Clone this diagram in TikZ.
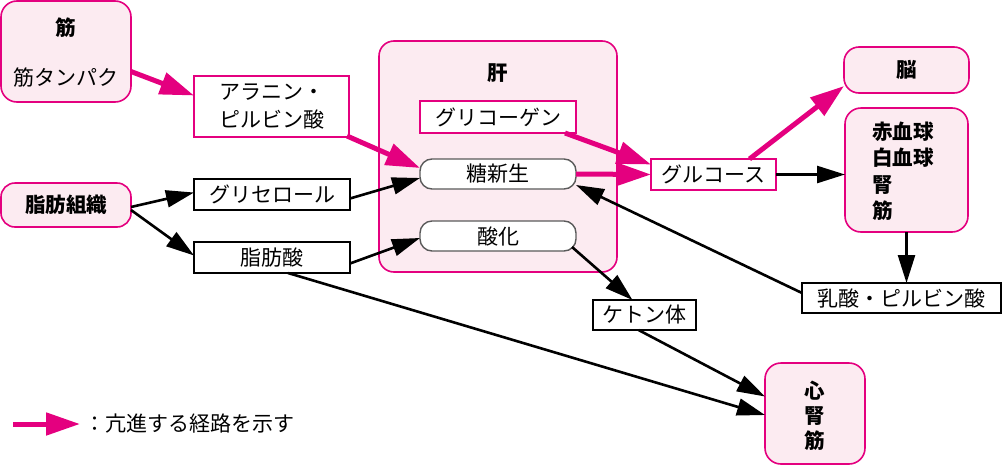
\documentclass[tikz,border=0pt]{standalone}
\usepackage{fontspec}
\setmainfont{Noto Sans CJK JP}
\usetikzlibrary{arrows.meta}
\definecolor{mag}{HTML}{E4007F}
\definecolor{pinkfill}{HTML}{FCEBF1}
\definecolor{edgegray}{HTML}{5A5A5A}
\begin{document}
\begin{tikzpicture}[x=1pt,y=-1pt,
  font=\fontsize{21}{26}\selectfont,
  every node/.style={inner sep=0pt, outer sep=0pt},
  organ/.style={draw=mag, fill=pinkfill, line width=1.6pt, rounded corners=16pt},
  magbox/.style={draw=mag, fill=white, line width=1.6pt},
  blkbox/.style={draw=black, fill=white, line width=1.6pt},
  proc/.style={draw=edgegray, fill=white, line width=1.4pt, rounded corners=12pt},
  blkarrow/.style={line width=2.6pt, -{Triangle[length=28pt,width=17pt]}},
  magarrow/.style={draw=mag, line width=5pt, -{Triangle[length=34pt,width=22pt]}, color=mag},
  bold/.style={font=\fontsize{20.5}{26}\selectfont\bfseries}
]
\useasboundingbox (0,0) rectangle (1003,466);

% boxes
\node[organ, minimum width=130pt, minimum height=101pt] (mus) at (66,51.5) {};
\node[bold] (musT) at (66,28) {筋};
\node (musP) at (66,78) {筋タンパク};

\node[magbox, minimum width=155pt, minimum height=61pt, align=center, font=\fontsize{21}{28}\selectfont] (ala) at (271.5,106.5) {アラニン・\\ピルビン酸};

\node[organ, rounded corners=14pt, minimum width=130pt, minimum height=44pt, bold] (adi) at (66,205) {脂肪組織};

\node[blkbox, minimum width=156pt, minimum height=31pt] (gly) at (272,194.5) {グリセロール};
\node[blkbox, minimum width=156pt, minimum height=31pt] (fa) at (272,257.5) {脂肪酸};

\node[organ, rounded corners=15pt, minimum width=238pt, minimum height=231pt] (liver) at (498,156.5) {};
\node[bold] (liverT) at (498,73) {肝};
\node[magbox, minimum width=156pt, minimum height=32pt] (glyc) at (498,117) {グリコーゲン};
\node[proc, minimum width=156pt, minimum height=30pt] (tou) at (498,174) {糖新生};
\node[proc, minimum width=156pt, minimum height=30pt] (san) at (498,236) {酸化};

\node[magbox, minimum width=125pt, minimum height=31pt] (glu) at (713.5,174.5) {グルコース};

\node[organ, rounded corners=15pt, minimum width=125pt, minimum height=46pt, bold] (brain) at (906.5,70) {脳};
\node[organ, minimum width=123pt, minimum height=124pt] (rbc) at (906.5,170) {};
\node[bold, align=left, font=\fontsize{20.5}{26.5}\selectfont\bfseries] (rbcT) at (903,171) {赤血球\\白血球\\腎\\筋};

\node[blkbox, minimum width=199pt, minimum height=30pt] (lac) at (901.5,298) {乳酸・ピルビン酸};
\node[blkbox, minimum width=103pt, minimum height=30pt] (ket) at (644.5,315) {ケトン体};

\node[organ, minimum width=100pt, minimum height=101pt] (heart) at (815,413.5) {};
\node[align=center, font=\fontsize{20.5}{25}\selectfont\bfseries] (heartT) at (815,416) {心\\腎\\筋};

% legend
\coordinate (legA) at (13,424);
\coordinate (legB) at (80,424);
\node[anchor=west] (legT) at (84,424) {：亢進する経路を示す};

% magenta arrows
\draw[magarrow] ([yshift=-20pt]mus.east) -- ([yshift=11pt]ala.west);
\draw[magarrow] ([xshift=-2pt,yshift=1pt]ala.south east) -- ([yshift=6pt]tou.west);
\draw[magarrow] ([xshift=-11pt]glyc.south east) -- ([yshift=10pt]glu.west);
\draw[magarrow] (tou.east) -- (glu.west);
\draw[magarrow] ([xshift=36pt]glu.north) -- ([yshift=-16pt]brain.west);
\draw[magarrow] (legA) -- (legB);

% black arrows
\draw[blkarrow] ([yshift=-2pt]adi.east) -- ([yshift=2pt]gly.west);
\draw[blkarrow] ([yshift=-5pt]adi.east) -- ([yshift=2pt]fa.west);
\draw[blkarrow] ([yshift=-4pt]gly.east) -- ([yshift=-4pt]tou.west);
\draw[blkarrow] ([yshift=-6pt]fa.east) -- ([yshift=-2pt]san.west);
\draw[blkarrow] (glu.east) -- (glu.east -| rbc.west);
\draw[blkarrow] (rbc.south) -- (rbc.south |- lac.north);
\draw[blkarrow] ([yshift=5pt]lac.west) -- ([yshift=-11pt]tou.east);
\draw[blkarrow] ([xshift=-4pt,yshift=4pt]san.south east) -- ([xshift=-12pt]ket.north);
\draw[blkarrow] ([xshift=-6pt]ket.south) -- ([yshift=17pt]heart.west);
\draw[blkarrow] ([xshift=16pt]fa.south) -- ([yshift=-1.5pt]heart.west);
\end{tikzpicture}
\end{document}
